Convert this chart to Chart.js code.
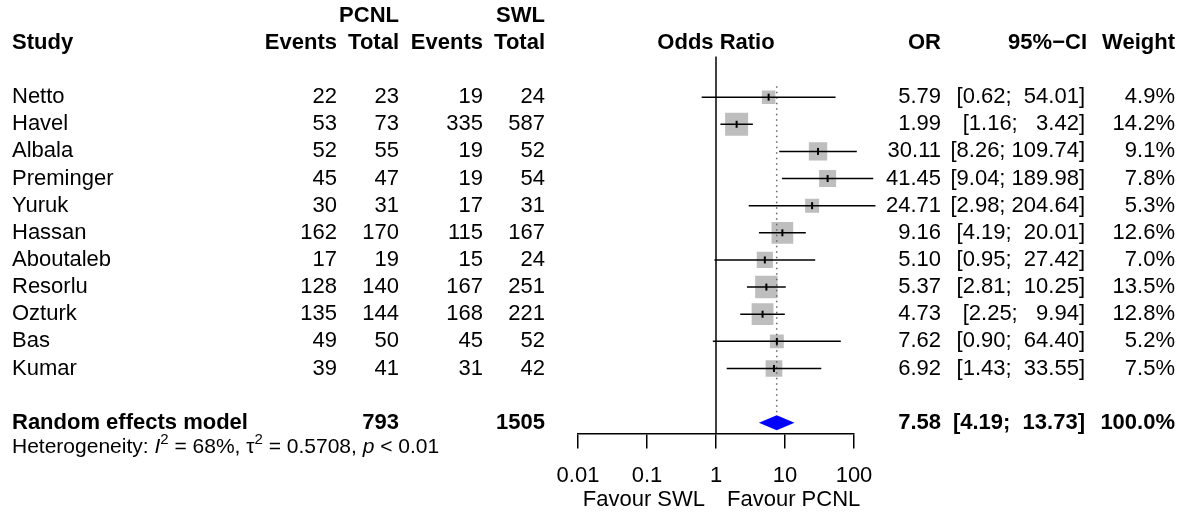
<!DOCTYPE html>
<html>
<head>
<meta charset="utf-8">
<script src="https://cdn.jsdelivr.net/npm/chart.js@4"></script>
<style>
  html, body { margin: 0; padding: 0; background: #fff; }
  #wrap { width: 1195px; height: 515px; position: relative; }
</style>
</head>
<body>
<div id="wrap"><canvas id="forestChart"></canvas></div>
<script>
// Study data
const studies = ["Netto", "Havel", "Albala", "Preminger", "Yuruk", "Hassan",
  "Aboutaleb", "Resorlu", "Ozturk", "Bas", "Kumar"];
const pcnlEvents = [22, 53, 52, 45, 30, 162, 17, 128, 135, 49, 39];
const pcnlTotal = [23, 73, 55, 47, 31, 170, 19, 140, 144, 50, 41];
const swlEvents = [19, 335, 19, 19, 17, 115, 15, 167, 168, 45, 31];
const swlTotal = [24, 587, 52, 54, 31, 167, 24, 251, 221, 52, 42];
const oddsRatio = [5.79, 1.99, 30.11, 41.45, 24.71, 9.16, 5.10, 5.37, 4.73, 7.62, 6.92];
const ciLower = [0.62, 1.16, 8.26, 9.04, 2.98, 4.19, 0.95, 2.81, 2.25, 0.90, 1.43];
const ciUpper = [54.01, 3.42, 109.74, 189.98, 204.64, 20.01, 27.42, 10.25, 9.94, 64.40, 33.55];
const weights = [4.9, 14.2, 9.1, 7.8, 5.3, 12.6, 7.0, 13.5, 12.8, 5.2, 7.5];

// Random effects summary
const summaryLabel = "Random effects model";
const summaryPcnlTotal = 793;
const summarySwlTotal = 1505;
const summaryOR = 7.58;
const summaryLower = 4.19;
const summaryUpper = 13.73;
const summaryWeight = "100.0%";

// Axis
const tickValues = [0.01, 0.1, 1, 10, 100];
const tickLabels = ["0.01", "0.1", "1", "10", "100"];
const labelLeft = "Favour SWL";
const labelRight = "Favour PCNL";

const FONT = "'Liberation Sans', Arial, sans-serif";
const SUMMARY_ROW = 12;

// right edges of the table columns
const COL_PCNL_EV = 337;
const COL_PCNL_TOT = 399;
const COL_SWL_EV = 483;
const COL_SWL_TOT = 545;
const COL_OR = 941;
const COL_CI = 1085;
const COL_W = 1175;

function fmt2(v) {
  return v.toFixed(2);
}

// R meta style: upper bound padded to the widest one
function ciText(lo, hi) {
  let up = fmt2(hi);
  while (up.length < 6) up = " " + up;
  return "[" + fmt2(lo) + "; " + up + "]";
}

const forestPlugin = {
  id: "forest",
  afterDatasetsDraw(chart) {
    const ctx = chart.ctx;
    const xs = chart.scales.x;
    const ys = chart.scales.y;
    const area = chart.chartArea;

    ctx.save();

    // no-effect line at OR = 1
    ctx.strokeStyle = "#000";
    ctx.lineWidth = 1.5;
    ctx.beginPath();
    ctx.moveTo(xs.getPixelForValue(1), ys.getPixelForValue(-1.5));
    ctx.lineTo(xs.getPixelForValue(1), area.bottom);
    ctx.stroke();

    // dotted line at the summary estimate
    ctx.strokeStyle = "#666";
    ctx.setLineDash([1.5, 4]);
    ctx.beginPath();
    ctx.moveTo(xs.getPixelForValue(summaryOR), ys.getPixelForValue(-0.4));
    ctx.lineTo(xs.getPixelForValue(summaryOR), ys.getPixelForValue(SUMMARY_ROW - 0.35));
    ctx.stroke();
    ctx.setLineDash([]);

    // confidence intervals and centre marks
    ctx.strokeStyle = "#000";
    for (let i = 0; i < studies.length; i++) {
      const y = ys.getPixelForValue(i);
      ctx.lineWidth = 1.5;
      ctx.beginPath();
      ctx.moveTo(xs.getPixelForValue(ciLower[i]), y);
      ctx.lineTo(xs.getPixelForValue(ciUpper[i]), y);
      ctx.stroke();
      const cx = xs.getPixelForValue(oddsRatio[i]);
      ctx.lineWidth = 2;
      ctx.beginPath();
      ctx.moveTo(cx, y - 3.5);
      ctx.lineTo(cx, y + 3.5);
      ctx.stroke();
    }

    // summary diamond
    const dy = ys.getPixelForValue(SUMMARY_ROW);
    ctx.fillStyle = "#0000ff";
    ctx.beginPath();
    ctx.moveTo(xs.getPixelForValue(summaryLower), dy);
    ctx.lineTo(xs.getPixelForValue(summaryOR), dy - 7.5);
    ctx.lineTo(xs.getPixelForValue(summaryUpper), dy);
    ctx.lineTo(xs.getPixelForValue(summaryOR), dy + 7.5);
    ctx.closePath();
    ctx.fill();

    // table text
    ctx.fillStyle = "#000";
    ctx.textBaseline = "middle";
    const text = (s, x, row, align, bold) => {
      ctx.font = (bold ? "bold " : "") + "22px " + FONT;
      ctx.textAlign = align;
      ctx.fillText(s, x, ys.getPixelForValue(row));
    };

    // headers
    text("PCNL", COL_PCNL_TOT, -3, "right", true);
    text("SWL", COL_SWL_TOT, -3, "right", true);
    text("Study", 12, -2, "left", true);
    text("Events", COL_PCNL_EV, -2, "right", true);
    text("Total", COL_PCNL_TOT, -2, "right", true);
    text("Events", COL_SWL_EV, -2, "right", true);
    text("Total", COL_SWL_TOT, -2, "right", true);
    text("Odds Ratio", xs.getPixelForValue(1), -2, "center", true);
    text("OR", COL_OR, -2, "right", true);
    text("95%\u2212CI", COL_CI + 2, -2, "right", true);
    text("Weight", COL_W, -2, "right", true);

    for (let i = 0; i < studies.length; i++) {
      text(studies[i], 12, i, "left", false);
      text(String(pcnlEvents[i]), COL_PCNL_EV, i, "right", false);
      text(String(pcnlTotal[i]), COL_PCNL_TOT, i, "right", false);
      text(String(swlEvents[i]), COL_SWL_EV, i, "right", false);
      text(String(swlTotal[i]), COL_SWL_TOT, i, "right", false);
      text(fmt2(oddsRatio[i]), COL_OR, i, "right", false);
      text(ciText(ciLower[i], ciUpper[i]), COL_CI, i, "right", false);
      text(weights[i].toFixed(1) + "%", COL_W, i, "right", false);
    }

    text(summaryLabel, 12, SUMMARY_ROW, "left", true);
    text(String(summaryPcnlTotal), COL_PCNL_TOT, SUMMARY_ROW, "right", true);
    text(String(summarySwlTotal), COL_SWL_TOT, SUMMARY_ROW, "right", true);
    text(fmt2(summaryOR), COL_OR, SUMMARY_ROW, "right", true);
    text(ciText(summaryLower, summaryUpper), COL_CI, SUMMARY_ROW, "right", true);
    text(summaryWeight, COL_W, SUMMARY_ROW, "right", true);

    // heterogeneity line, piece by piece
    const hy = ys.getPixelForValue(SUMMARY_ROW + 0.9);
    let hx = 12;
    ctx.textAlign = "left";
    const piece = (s, style, dyOff) => {
      ctx.font = style + FONT;
      ctx.fillText(s, hx, hy + (dyOff || 0));
      hx += ctx.measureText(s).width;
    };
    piece("Heterogeneity: ", "21px ");
    piece("I", "italic 21px ");
    piece("2", "15px ", -7);
    piece(" = 68%, ", "21px ");
    piece("\u03c4", "21px ");
    piece("2", "15px ", -7);
    piece(" = 0.5708, ", "21px ");
    piece("p", "italic 21px ");
    piece(" < 0.01", "21px ");

    // favour labels under the axis
    ctx.font = "22px " + FONT;
    const fy = 500;
    ctx.textAlign = "right";
    ctx.fillText(labelLeft, xs.getPixelForValue(1) - 11, fy);
    ctx.textAlign = "left";
    ctx.fillText(labelRight, xs.getPixelForValue(1) + 11, fy);

    ctx.restore();
  }
};

const ctx = document.getElementById("forestChart");
new Chart(ctx, {
  type: "scatter",
  data: {
    datasets: [
      {
        label: "Studies",
        data: studies.map((s, i) => ({ x: oddsRatio[i], y: i })),
        pointStyle: "rect",
        pointRadius: weights.map((w) => (6.1 * Math.sqrt(w)) / Math.SQRT2),
        pointHoverRadius: weights.map((w) => (6.1 * Math.sqrt(w)) / Math.SQRT2),
        backgroundColor: "#bebebe",
        borderWidth: 0,
      },
    ],
  },
  options: {
    responsive: true,
    maintainAspectRatio: false,
    devicePixelRatio: 1,
    animation: false,
    events: [],
    layout: {
      autoPadding: false,
      padding: { left: 578, right: 341, top: 0, bottom: 12 },
    },
    plugins: {
      legend: { display: false },
      tooltip: { enabled: false },
    },
    scales: {
      x: {
        type: "logarithmic",
        min: 0.01,
        max: 100,
        afterBuildTicks: (scale) => {
          scale.ticks = tickValues.map((v) => ({ value: v }));
        },
        ticks: {
          autoSkip: false,
          maxRotation: 0,
          padding: 14,
          color: "#000",
          font: { size: 22, family: FONT },
          callback: (value) => tickLabels[tickValues.indexOf(value)],
        },
        grid: {
          drawOnChartArea: false,
          drawTicks: true,
          tickLength: 15,
          color: "#000",
          lineWidth: 1.5,
        },
        border: { display: true, color: "#000", width: 1.5 },
      },
      y: {
        display: false,
        reverse: true,
        min: -3.58,
        max: 12.4,
      },
    },
  },
  plugins: [forestPlugin],
});
</script>
</body>
</html>
